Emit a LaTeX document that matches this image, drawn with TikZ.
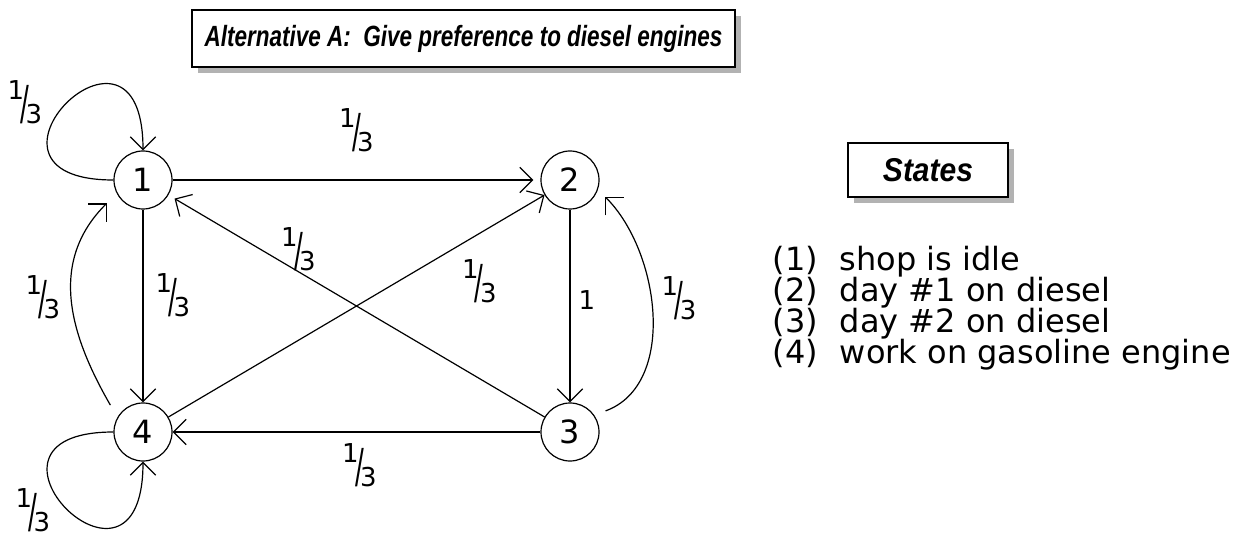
\documentclass[tikz,border=0pt]{standalone}
\usepackage{fontspec}
\usepackage{xcolor}
\usepackage{tikz}
\setmainfont{DejaVu Sans}
\newfontfamily\bannerfont{Liberation Sans}
\usetikzlibrary{arrows.meta,shadows}

% slanted one third
\newcommand{\third}{\raisebox{0.48em}{1}\kern-0.14em\raisebox{-0.3em}{\scalebox{1}[1.8]{/}}\kern-0.14em\raisebox{-0.45em}{3}}

\begin{document}
\begin{tikzpicture}[x=1pt, y=1pt, line width=1.2pt,
    >={Straight Barb[angle=90:18pt]},
    state/.style={circle, draw=black, minimum size=58pt, inner sep=0pt, font=\fontsize{32}{32}\selectfont},
    prob/.style={font=\fontsize{26}{26}\selectfont, inner sep=0pt},
    banner/.style={rectangle, draw=black, fill=white, line width=1.4pt, inner sep=0pt,
        drop shadow={shadow xshift=6pt, shadow yshift=-6pt, fill=gray!60, opacity=1},
        font=\bannerfont\bfseries\itshape}
]
    \useasboundingbox (0,0) rectangle (1238,538);

    % Titles
    \node[banner, minimum width=543pt, minimum height=57pt] (title) at (463.5,499.5)
        {\scalebox{1}[1.3]{\fontsize{22.5}{22.5}\selectfont Alternative A:\ \ Give preference to diesel engines}};
    \node[banner, minimum width=160pt, minimum height=54pt] (legendtitle) at (928,368)
        {\scalebox{1}[1.1]{\fontsize{30}{30}\selectfont States}};

    % States
    \node[state] (n1) at (143,358) {1};
    \node[state] (n2) at (570,358) {2};
    \node[state] (n3) at (570,106) {3};
    \node[state] (n4) at (143,106) {4};

    \node[anchor=north west, inner sep=0pt, align=left, font=\fontsize{32}{31}\selectfont] (legend) at (772,292) {%
        (1)\hspace{22pt}shop is idle\\
        (2)\hspace{22pt}day \#1 on diesel\\
        (3)\hspace{22pt}day \#2 on diesel\\
        (4)\hspace{22pt}work on gasoline engine};

    % Transitions
    \draw[->, shorten >=7pt] (n1) -- node[prob, midway, yshift=50pt] {\third} (n2);
    \draw[->] (n1) -- node[prob, midway, xshift=30pt, yshift=11pt] {\third} (n4);
    \draw[->] (n2) -- node[prob, midway, xshift=17pt, yshift=6pt] {1} (n3);
    \draw[->] (n3) -- node[prob, midway, xshift=3pt, yshift=-33pt] {\third} (n4);
    \draw[->, shorten >=7pt] (n3) -- node[prob, midway, xshift=-58pt, yshift=57pt] {\third} (n1);
    \draw[->] (n4) -- node[prob, pos=.8, xshift=10pt, yshift=-42pt] {\third} (n2);

    % Curved transitions
    \draw[->, shorten <=14pt, shorten >=14pt] (n4.150) to[out=120, in=225, looseness=1.1] (n1.207);
    \node[prob] (p41) at (43,241) {\third};
    \draw[->, shorten <=12pt, shorten >=10pt] (n3.35) to[out=20, in=-45] (n2.-19);
    \node[prob] (p32) at (679,240) {\third};

    % Self loops
    \draw[->] (n1.west) to[out=180, in=90, out distance=165pt, in distance=165pt] (n1.north);
    \node[prob] (p11) at (25,436) {\third};
    \draw[->] (n4.west) to[out=180, in=270, out distance=165pt, in distance=165pt] (n4.south);
    \node[prob] (p44) at (33,28) {\third};
\end{tikzpicture}
\end{document}
